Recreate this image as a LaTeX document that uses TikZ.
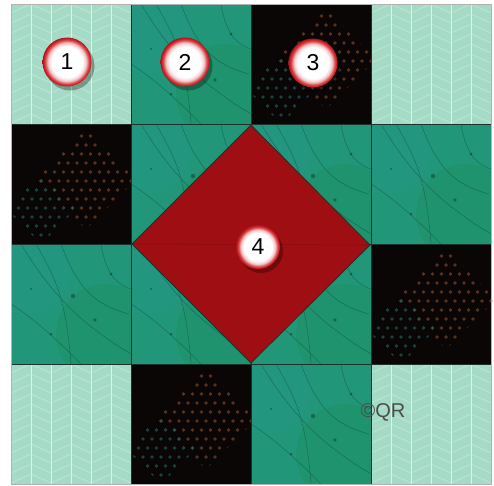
\documentclass[tikz,border=0pt]{standalone}
\usepackage{fontspec}
\setsansfont{Liberation Sans}
\usetikzlibrary{shadows}
\definecolor{mint}{RGB}{165,219,198}
\definecolor{mintline}{RGB}{200,238,222}
\definecolor{tealc}{RGB}{34,150,120}
\definecolor{tealdark}{RGB}{12,60,52}
\definecolor{blk}{RGB}{10,6,6}
\definecolor{dotor}{RGB}{140,80,48}
\definecolor{dottl}{RGB}{30,92,88}
\definecolor{redc}{RGB}{158,14,18}
\definecolor{ringred}{RGB}{205,30,35}
\definecolor{seamc}{RGB}{30,50,44}
\pgfdeclareradialshading{badgeshade}{\pgfpoint{0bp}{0bp}}{%
  color(0bp)=(white); color(16bp)=(white); color(19.5bp)=(ringred!25!white);
  color(22.5bp)=(ringred!85!white); color(24bp)=(ringred); color(25bp)=(ringred!80!black);
  color(50bp)=(ringred!80!black)}
\tikzset{
  seam/.style={draw=seamc, line width=0.8pt},
  mintsq/.style={fill=mint},
  tealsq/.style={fill=tealc},
  blksq/.style={fill=blk},
  numbadge/.style={circle, minimum size=49pt, inner sep=0pt,
    shade, shading=badgeshade,
    font=\sffamily\fontsize{23}{23}\selectfont, text=black,
    drop shadow={shadow xshift=3pt, shadow yshift=-4pt, opacity=0.3, fill=black}},
}
\begin{document}
\begin{tikzpicture}[x=1pt,y=-1pt]
\useasboundingbox (0,0) rectangle (494,485);
\fill[white] (0,0) rectangle (494,485);
% ---------- squares ----------
\foreach \c/\r/\t in {0/0/L,1/0/T,2/0/K,3/0/L,
                      0/1/K,1/1/T,2/1/T,3/1/T,
                      0/2/T,1/2/T,2/2/T,3/2/K,
                      0/3/L,1/3/K,2/3/T,3/3/L}{
  \pgfmathsetmacro{\xo}{11+120*\c}
  \pgfmathsetmacro{\yo}{4+120*\r}
  \if\t L
    \fill[mintsq] (\xo,\yo) rectangle ++(120,120);
    \begin{scope}
      \clip (\xo,\yo) rectangle ++(120,120);
      \foreach \k in {0,...,5}{
        \pgfmathsetmacro{\xa}{\xo+20*\k}
        \pgfmathtruncatemacro{\pty}{mod(\k,2)}
        \foreach \j in {-1,...,12}{
          \ifnum\pty=0
            \draw[mintline, line width=1.3pt, opacity=0.45] (\xa,\yo+10*\j+9) -- ++(20,-9);
          \else
            \draw[mintline, line width=1.3pt, opacity=0.45] (\xa,\yo+10*\j) -- ++(20,9);
          \fi
        }
        \draw[white, line width=0.9pt, opacity=0.65] (\xa+20,\yo) -- ++(0,120);
      }
    \end{scope}
  \fi
  \if\t T
    \fill[tealsq] (\xo,\yo) rectangle ++(120,120);
    \begin{scope}
      \clip (\xo,\yo) rectangle ++(120,120);
      \fill[cyan!50!teal, opacity=0.10] (\xo+15,\yo+25) circle (45);
      \fill[green!45!black, opacity=0.08] (\xo+95,\yo+90) circle (50);
      \draw[tealdark, opacity=0.4, line width=0.6pt]
        (\xo+10,\yo) .. controls (\xo+40,\yo+50) and (\xo+70,\yo+80) .. (\xo+120,\yo+110)
        (\xo+50,\yo) .. controls (\xo+65,\yo+40) and (\xo+80,\yo+60) .. (\xo+118,\yo+70)
        (\xo,\yo+60) .. controls (\xo+30,\yo+80) and (\xo+50,\yo+100) .. (\xo+70,\yo+120)
        (\xo+90,\yo) .. controls (\xo+95,\yo+30) and (\xo+105,\yo+40) .. (\xo+120,\yo+45)
        (\xo+25,\yo) .. controls (\xo+45,\yo+35) and (\xo+55,\yo+55) .. (\xo+60,\yo+120);
      \fill[tealdark, opacity=0.5] (\xo+62,\yo+52) circle (2.2) (\xo+84,\yo+76) circle (1.8)
        (\xo+40,\yo+90) circle (1.5) (\xo+100,\yo+30) circle (1.6) (\xo+20,\yo+45) circle (1.2);
    \end{scope}
  \fi
  \if\t K
    \fill[blksq] (\xo,\yo) rectangle ++(120,120);
    \begin{scope}
      \clip (\xo+75,\yo+5) -- (\xo+125,\yo+55) -- (\xo+75,\yo+105) -- (\xo+25,\yo+55) -- cycle;
      \foreach \i in {0,...,13}{
        \foreach \j in {0,...,13}{
          \pgfmathsetmacro{\dx}{mod(\j,2)*4.5}
          \fill[dotor, opacity=0.6] (\xo+\i*9+\dx+3,\yo+\j*9+3) circle (1.8);
        }
      }
    \end{scope}
    \begin{scope}
      \clip (\xo+30,\yo+50) -- (\xo+65,\yo+85) -- (\xo+30,\yo+120) -- (\xo-5,\yo+85) -- cycle;
      \foreach \i in {0,...,13}{
        \foreach \j in {0,...,13}{
          \pgfmathsetmacro{\dx}{mod(\j,2)*4.5}
          \fill[dottl, opacity=0.7] (\xo+\i*9+\dx+3,\yo+\j*9+3) circle (1.8);
        }
      }
    \end{scope}
  \fi
}
% ---------- seams ----------
\foreach \k in {1,2,3}{
  \draw[seam] (11+120*\k,4) -- (11+120*\k,484);
  \draw[seam] (11,4+120*\k) -- (491,4+120*\k);
}
% ---------- red diamond ----------
\coordinate (dT) at (251,125);
\coordinate (dR) at (370,245);
\coordinate (dB) at (251,363);
\coordinate (dL) at (132,244);
\fill[redc, draw=seamc, line width=0.8pt] (dT) -- (dR) -- (dB) -- (dL) -- cycle;
\draw[black, opacity=0.12, line width=0.6pt] (dL) -- (dR);
% ---------- frame ----------
\draw[gray!60, line width=1pt] (11,4) rectangle (491,484);
% ---------- badges ----------
\node[numbadge] (n1) at (67,62) {1};
\node[numbadge] (n2) at (185,62) {2};
\node[numbadge] (n3) at (313,63) {3};
\node[numbadge, minimum size=44pt] (n4) at (258,247) {4};
% ---------- watermark ----------
\node[font=\sffamily\fontsize{20}{20}\selectfont, inner sep=0pt, text=black!70] (wm) at (383,412) {©QR};
\end{tikzpicture}
\end{document}
